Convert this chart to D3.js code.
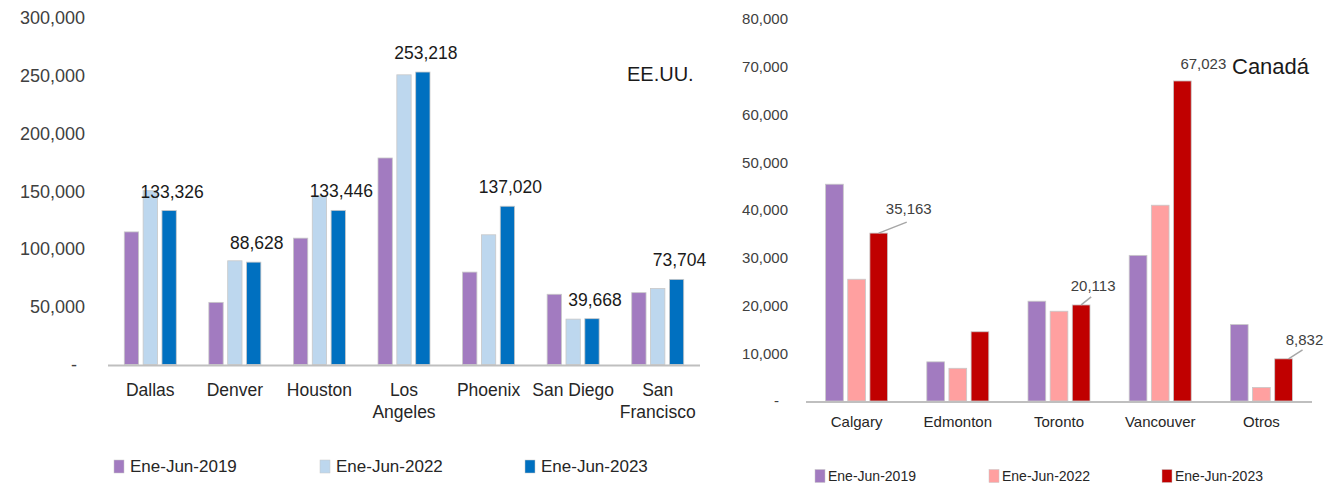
<!DOCTYPE html>
<html>
<head>
<meta charset="utf-8">
<script src="https://cdn.jsdelivr.net/npm/d3@7"></script>
<style>
  body { margin: 0; background: #fff; }
  svg text { font-family: "Liberation Sans", Arial, sans-serif; }
</style>
</head>
<body>
<svg id="chart" width="1335" height="483"></svg>
<script>
// ---- data ----
const seriesNames = ["Ene-Jun-2019", "Ene-Jun-2022", "Ene-Jun-2023"]

const usCities = ["Dallas", "Denver", "Houston", "Los Angeles", "Phoenix", "San Diego", "San Francisco"]
const usCityLabels = [["Dallas"], ["Denver"], ["Houston"], ["Los", "Angeles"], ["Phoenix"], ["San Diego"], ["San", "Francisco"]]
const us2019 = [114800, 53800, 109400, 178800, 80000, 60800, 62200]
const us2022 = [150500, 89800, 146000, 250800, 112300, 39300, 65800]
const us2023 = [133326, 88628, 133446, 253218, 137020, 39668, 73704]
const usTicks = [0, 50000, 100000, 150000, 200000, 250000, 300000]

const caCities = ["Calgary", "Edmonton", "Toronto", "Vancouver", "Otros"]
const ca2019 = [45400, 8200, 20900, 30500, 16000]
const ca2022 = [25500, 6850, 18800, 41000, 2850]
const ca2023 = [35163, 14500, 20113, 67023, 8832]
const caTicks = [0, 10000, 20000, 30000, 40000, 50000, 60000, 70000, 80000]

const usColors = ["#a27bc0", "#bdd7ee", "#0070c0"]
const caColors = ["#a27bc0", "#ffa0a0", "#c00000"]

const svg = d3.select("#chart")
const fmt = d3.format(",")

const drawChart = (opt) => {
    const g = svg.append("g")
    const rows = opt.cities.map((c, i) => ({city: c, vals: opt.series.map(s => s[i])}))

    const x0 = d3.scaleBand().domain(opt.cities).range(opt.xRange).padding(0)
    const x1 = d3.scaleBand().domain([0, 1, 2]).range([-opt.groupW / 2, opt.groupW / 2]).paddingInner(opt.gapRatio)
    const y = d3.scaleLinear().domain([0, opt.yMax]).range(opt.yRange)

    // y axis (labels only)
    const yAxis = d3.axisLeft(y)
        .tickValues(opt.ticks)
        .tickSize(0)
        .tickPadding(0)
        .tickFormat(d => d === 0 ? "-" : fmt(d))
    const ya = g.append("g")
        .attr("transform", `translate(${opt.tickX},0)`)
        .call(yAxis)
    ya.select(".domain").remove()
    ya.selectAll("text")
        .attr("font-size", opt.tickFont)
        .attr("fill", "#404040")
        .attr("font-family", "Liberation Sans, Arial, sans-serif")
        .attr("dx", d => d === 0 ? -opt.dashShift : 0)

    // bars
    const groups = g.selectAll(".grp")
        .data(rows)
        .enter()
        .append("g")
        .attr("transform", d => `translate(${x0(d.city) + x0.bandwidth() / 2},0)`)

    groups.selectAll("rect")
        .data(d => d.vals.map((v, k) => ({k: k, v: v})))
        .enter()
        .append("rect")
        .attr("x", d => x1(d.k))
        .attr("y", d => y(d.v))
        .attr("width", x1.bandwidth())
        .attr("height", d => y(0) - y(d.v))
        .attr("fill", d => opt.colors[d.k])
        .attr("stroke", "#c8c8c8")
        .attr("stroke-width", 0.8)

    // baseline
    g.append("line")
        .attr("x1", opt.xRange[0]).attr("x2", opt.xRange[1])
        .attr("y1", y(0) + 1).attr("y2", y(0) + 1)
        .attr("stroke", "#bfbfbf")
        .attr("stroke-width", 2)

    // category labels
    const cat = g.selectAll(".cat")
        .data(rows)
        .enter()
        .append("text")
        .attr("text-anchor", "middle")
        .attr("font-size", opt.catFont)
        .attr("fill", "#262626")
        .attr("transform", d => `translate(${x0(d.city) + x0.bandwidth() / 2},${opt.catY})`)
    cat.each(function(d, i) {
        const lines = opt.catLabels ? opt.catLabels[i] : [d.city]
        lines.forEach((ln, j) => {
            d3.select(this).append("tspan").attr("x", 0).attr("dy", j === 0 ? 0 : opt.catLine).text(ln)
        })
    })

    // value labels for last series
    rows.forEach((d, i) => {
        const bx = x0(d.city) + x0.bandwidth() / 2 + x1(2) + x1.bandwidth() / 2
        const by = y(d.vals[2])
        const off = opt.labelOff[i]
        if (!off) return
        if (off.lead) {
            g.append("line")
                .attr("x1", bx + off.lead[0]).attr("y1", by)
                .attr("x2", bx + off.lead[1]).attr("y2", by + off.lead[2])
                .attr("stroke", "#a6a6a6")
                .attr("stroke-width", 1.5)
        }
        g.append("text")
            .attr("x", bx + off.dx)
            .attr("y", by + off.dy)
            .attr("text-anchor", "middle")
            .attr("font-size", opt.valFont)
            .attr("fill", opt.valColor)
            .text(fmt(d.vals[2]))
    })

    // legend
    seriesNames.forEach((s, k) => {
        const lx = opt.legendX[k]
        g.append("rect")
            .attr("x", lx).attr("y", opt.legendY - opt.legendH / 2)
            .attr("width", opt.legendW).attr("height", opt.legendH)
            .attr("fill", opt.colors[k])
            .attr("stroke", "#c8c8c8").attr("stroke-width", 0.5)
        g.append("text")
            .attr("x", lx + opt.legendW + opt.legendGap)
            .attr("y", opt.legendY)
            .attr("dy", "0.35em")
            .attr("font-size", opt.legendFont)
            .attr("fill", "#262626")
            .text(s)
    })

    // title
    g.append("text")
        .attr("x", opt.titleX).attr("y", opt.titleY)
        .attr("font-size", opt.titleFont)
        .attr("fill", "#1a1a1a")
        .text(opt.title)
}

drawChart({
    cities: usCities,
    catLabels: usCityLabels,
    series: [us2019, us2022, us2023],
    colors: usColors,
    xRange: [108, 700],
    groupW: 52,
    gapRatio: 0.24,
    yMax: 300000,
    yRange: [364.5, 18],
    ticks: usTicks,
    tickX: 85,
    tickFont: 18,
    dashShift: 8,
    catY: 396,
    catLine: 22,
    catFont: 17.5,
    valFont: 17.5,
    valColor: "#1a1a1a",
    labelOff: us2023.map(() => ({dx: 3, dy: -13})),
    legendX: [114, 320, 525],
    legendY: 466.5,
    legendW: 10,
    legendH: 13,
    legendGap: 6,
    legendFont: 17,
    title: "EE.UU.",
    titleX: 627,
    titleY: 81,
    titleFont: 20
})

drawChart({
    cities: caCities,
    series: [ca2019, ca2022, ca2023],
    colors: caColors,
    xRange: [806, 1312],
    groupW: 62,
    gapRatio: 0.2,
    yMax: 80000,
    yRange: [401, 19],
    ticks: caTicks,
    tickX: 788,
    tickFont: 15,
    dashShift: 9,
    catY: 427,
    catLine: 18,
    catFont: 15,
    valFont: 15,
    valColor: "#404040",
    labelOff: [
        {dx: 30, dy: -19, lead: [0, 28, -11]},
        null,
        {dx: 12, dy: -14, lead: [0, 10, -8]},
        {dx: 21, dy: -12},
        {dx: 21, dy: -14, lead: [5, 19, -9]}
    ],
    legendX: [815, 989, 1162],
    legendY: 476,
    legendW: 10,
    legendH: 13,
    legendGap: 3,
    legendFont: 14,
    title: "Canadá",
    titleX: 1232,
    titleY: 74,
    titleFont: 22
})
</script>
</body>
</html>
